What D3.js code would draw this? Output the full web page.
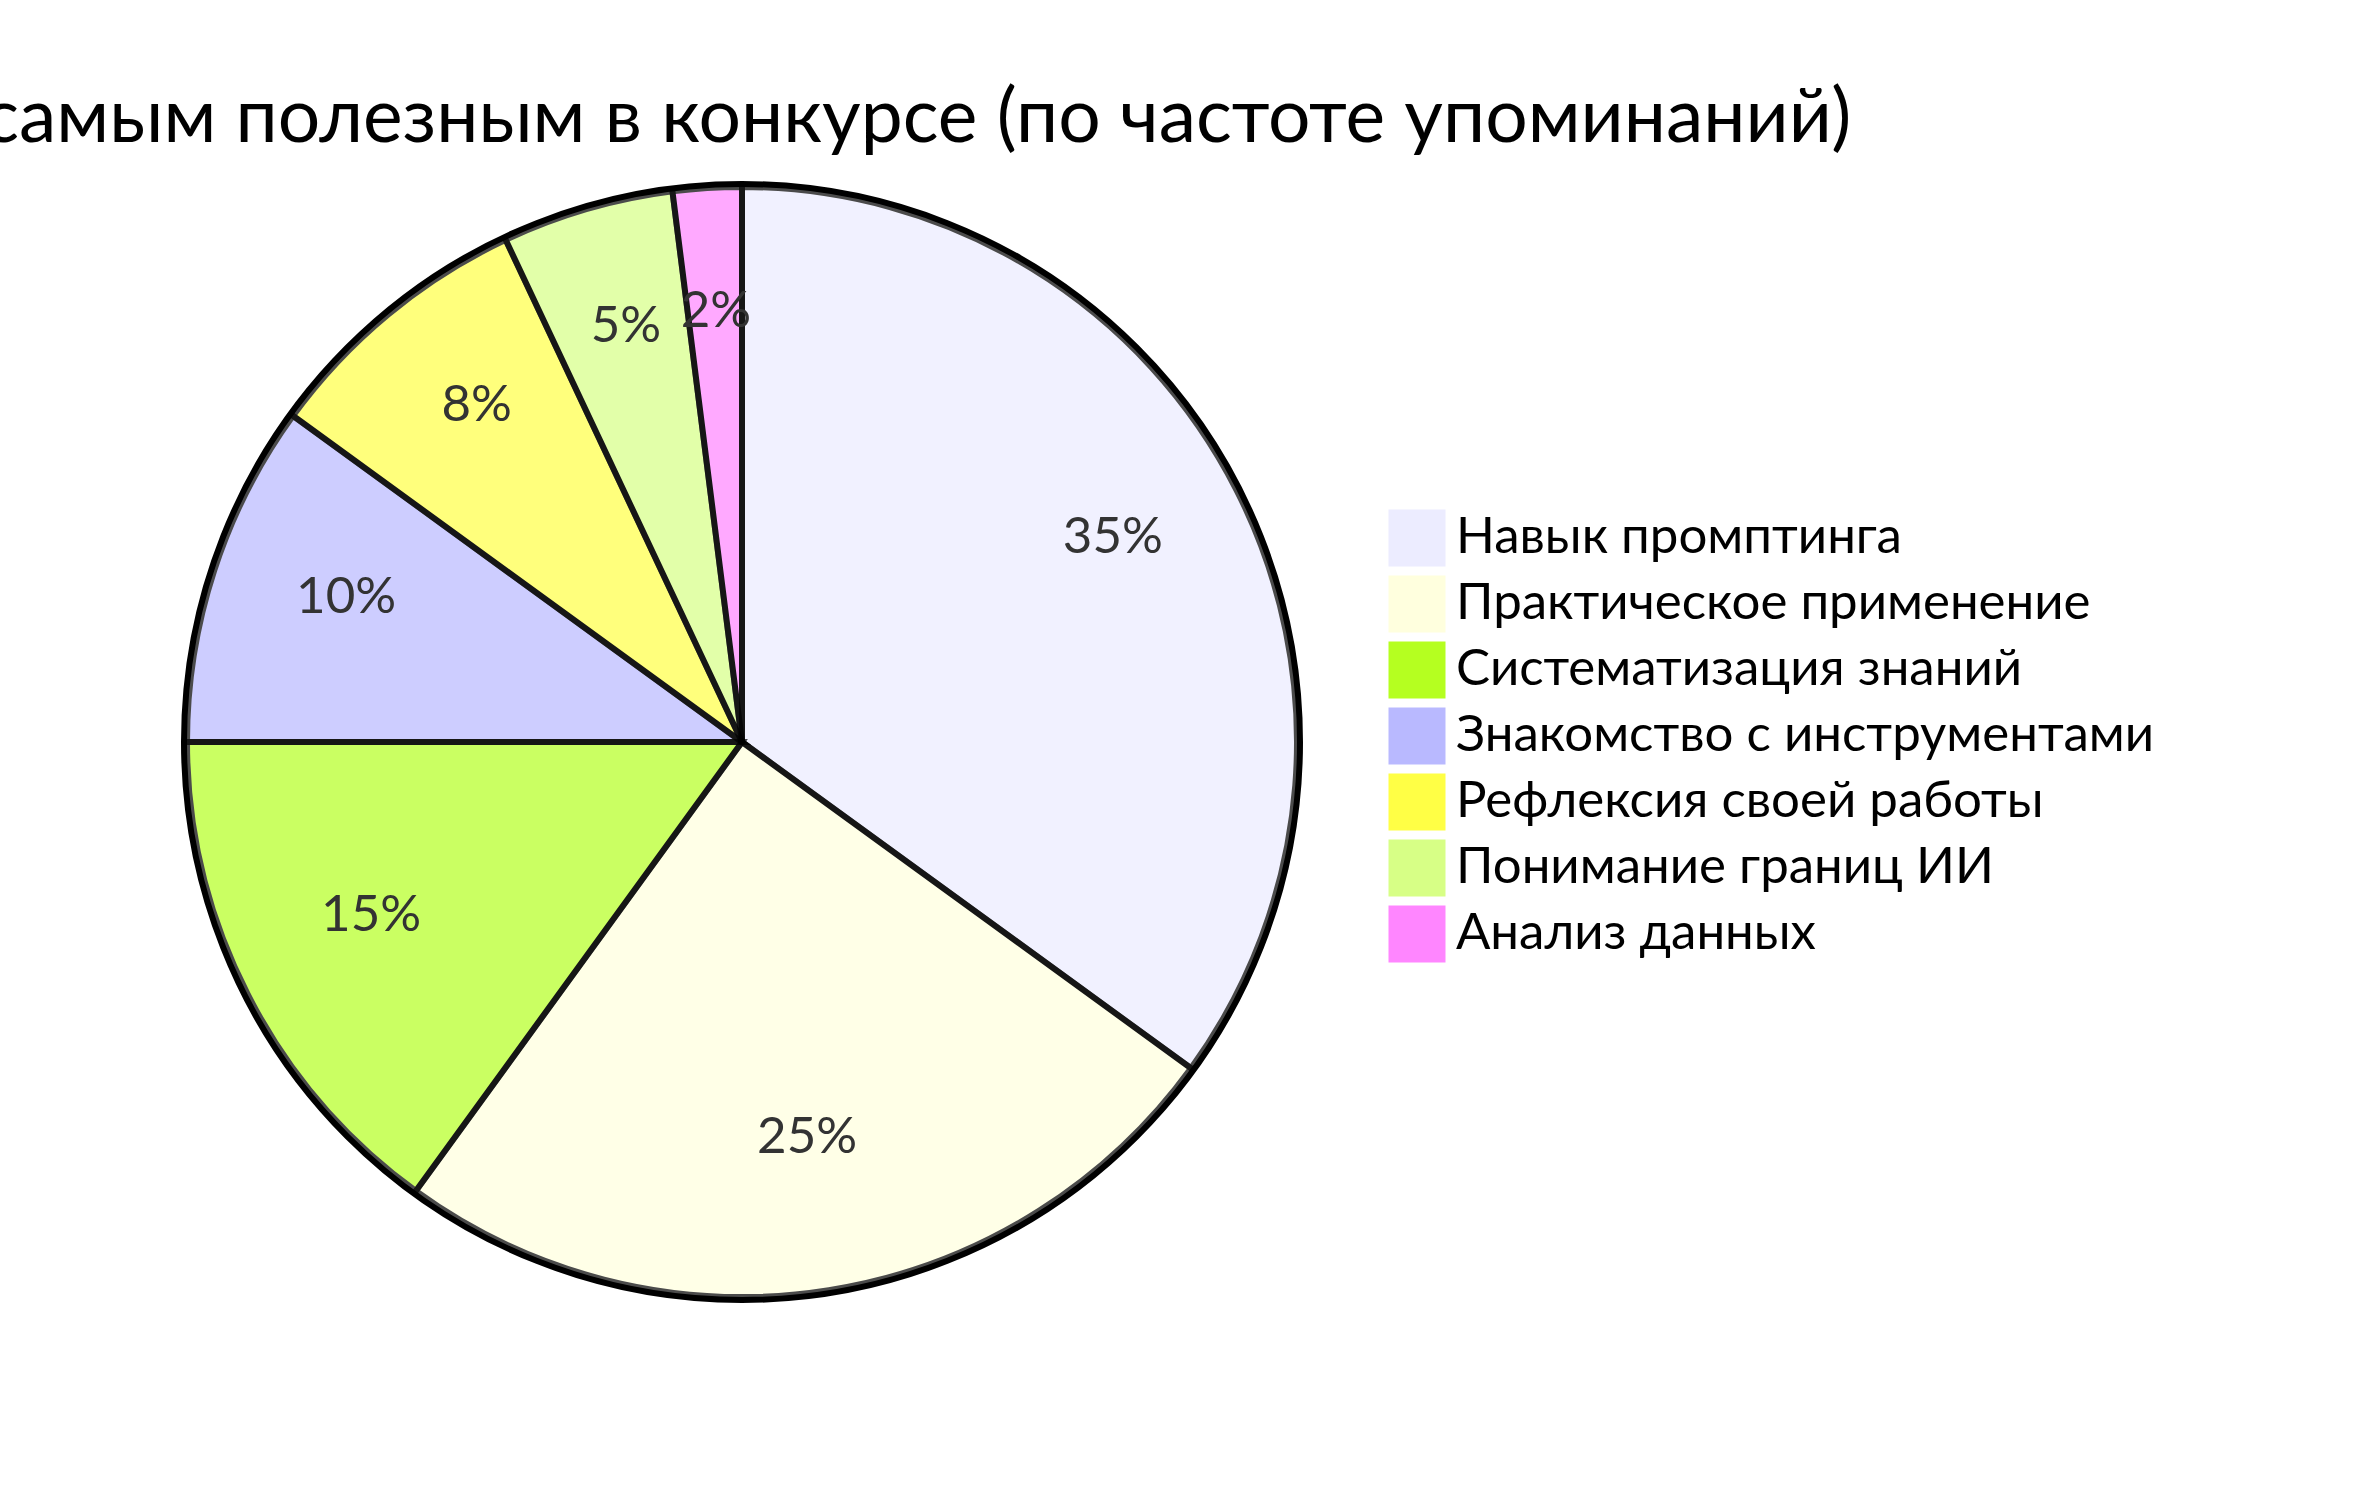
<!DOCTYPE html>
<html><head><meta charset="utf-8">
<script src="https://cdn.jsdelivr.net/npm/d3@7"></script>
<style>html,body{margin:0;padding:0;background:#fff;overflow:hidden}</style>
</head><body>
<svg id="chart" width="2363" height="1485"></svg>
<script>
const title = "Что было самым полезным в конкурсе (по частоте упоминаний)";
const labels = ["Навык промптинга","Практическое применение","Систематизация знаний","Знакомство с инструментами","Рефлексия своей работы","Понимание границ ИИ","Анализ данных"];
const values = [35,25,15,10,8,5,2];
const colors = ["#ECECFF","#FFFFDE","#B5FF20","#B9B9FF","#FFFF45","#D7FF86","#FF86FF"];
const FONT = 'Lato, "Liberation Sans", sans-serif';

const svg = d3.select("#chart");
const S = 3, radius = 185;
const g = svg.append("g").attr("transform", `translate(742,742) scale(${S})`);
const data = labels.map((l,i)=>({label:l, value:values[i]}));
const sum = d3.sum(values);
const color = d3.scaleOrdinal().domain(labels).range(colors);
const pie = d3.pie().value(d=>d.value).sort(null);
const arcs = pie(data);
const arc = d3.arc().innerRadius(0).outerRadius(radius);
const labelArc = d3.arc().innerRadius(radius*0.75).outerRadius(radius*0.75);

g.append("circle").attr("r", radius+1).attr("fill","none").attr("stroke","black").attr("stroke-width",2);
g.selectAll("path.slice").data(arcs).enter().append("path")
  .attr("class","slice")
  .attr("d", arc).attr("fill", d=>color(d.data.label))
  .attr("stroke","black").attr("stroke-width",2).attr("opacity",0.7);
g.selectAll("text.slice").data(arcs).enter().append("text")
  .attr("class","slice")
  .text(d=>((d.data.value/sum)*100).toFixed(0)+"%")
  .attr("transform", d=>`translate(${labelArc.centroid(d)})`)
  .attr("text-anchor","middle").attr("fill","#333")
  .style("font-family",FONT).style("font-size","17px");
g.append("text").text(title).attr("x",0).attr("y",-200)
  .attr("text-anchor","middle").attr("fill","black")
  .style("font-family",FONT).style("font-size","25px");
const lh = 22, off = lh*labels.length/2;
const lg = g.selectAll("g.legend").data(color.domain()).enter().append("g")
  .attr("class","legend")
  .attr("transform",(d,i)=>`translate(${12*18},${i*lh-off})`);
lg.append("rect").attr("width",18).attr("height",18)
  .attr("fill",d=>color(d)).attr("stroke",d=>color(d));
lg.append("text").attr("x",22).attr("y",14).text(d=>d).attr("fill","black")
  .style("font-family",FONT).style("font-size","17px");
</script>
</body></html>
